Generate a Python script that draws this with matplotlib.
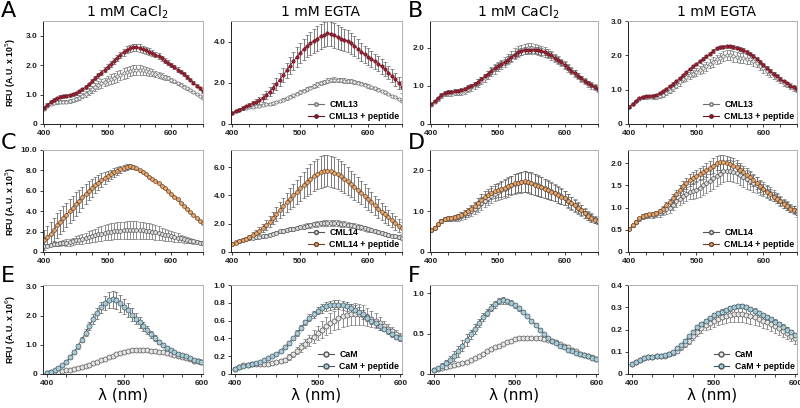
import numpy as np
import matplotlib
matplotlib.use('Agg')
import matplotlib.pyplot as plt
from matplotlib.lines import Line2D

# wavelengths (nm)
wl = np.arange(400, 651, 5)
wl_cam = np.arange(400, 601, 5)

# ---- A : CML13, 1 mM CaCl2
A_ca_prot = [0.50, 0.60, 0.67, 0.72, 0.74, 0.75, 0.75, 0.76, 0.78, 0.80,
             0.84, 0.90, 0.96, 1.03, 1.10, 1.18, 1.25, 1.32, 1.38, 1.43,
             1.48, 1.53, 1.57, 1.62, 1.67, 1.72, 1.76, 1.80, 1.83, 1.84,
             1.84, 1.82, 1.80, 1.77, 1.74, 1.70, 1.67, 1.63, 1.59, 1.55,
             1.50, 1.45, 1.39, 1.33, 1.27, 1.21, 1.15, 1.08, 1.01, 0.94,
             0.87]
A_ca_prot_err = [0.03, 0.03, 0.04, 0.04, 0.05, 0.05, 0.05, 0.05, 0.06, 0.06,
                 0.07, 0.08, 0.09, 0.10, 0.11, 0.12, 0.13, 0.14, 0.15, 0.15,
                 0.16, 0.17, 0.17, 0.18, 0.18, 0.18, 0.18, 0.18, 0.17, 0.17,
                 0.16, 0.15, 0.14, 0.13, 0.12, 0.11, 0.10, 0.09, 0.08, 0.07,
                 0.06, 0.06, 0.05, 0.05, 0.04, 0.04, 0.04, 0.03, 0.03, 0.03,
                 0.03]
A_ca_pep = [0.55, 0.65, 0.75, 0.83, 0.88, 0.92, 0.95, 0.96, 0.98, 1.01,
            1.05, 1.11, 1.18, 1.26, 1.35, 1.45, 1.55, 1.65, 1.75, 1.85,
            1.95, 2.05, 2.15, 2.25, 2.35, 2.44, 2.52, 2.57, 2.60, 2.60,
            2.58, 2.54, 2.50, 2.46, 2.42, 2.36, 2.30, 2.23, 2.15, 2.08,
            2.00, 1.93, 1.85, 1.78, 1.70, 1.60, 1.50, 1.40, 1.30, 1.21,
            1.12]
A_ca_pep_err = [0.05, 0.05, 0.05, 0.05, 0.05, 0.05, 0.05, 0.05, 0.05, 0.05,
                0.05, 0.05, 0.06, 0.06, 0.06, 0.07, 0.07, 0.08, 0.08, 0.09,
                0.09, 0.10, 0.10, 0.11, 0.11, 0.12, 0.12, 0.13, 0.13, 0.13,
                0.13, 0.12, 0.12, 0.11, 0.11, 0.10, 0.10, 0.09, 0.09, 0.08,
                0.08, 0.07, 0.07, 0.06, 0.06, 0.06, 0.05, 0.05, 0.05, 0.05,
                0.05]

# ---- A : CML13, 1 mM EGTA
A_eg_prot = [0.53, 0.62, 0.70, 0.76, 0.80, 0.82, 0.84, 0.86, 0.88, 0.92,
             0.95, 0.98, 1.00, 1.06, 1.12, 1.18, 1.25, 1.32, 1.40, 1.47,
             1.55, 1.62, 1.70, 1.77, 1.85, 1.92, 1.98, 2.04, 2.10, 2.13,
             2.15, 2.14, 2.12, 2.11, 2.10, 2.08, 2.05, 2.01, 1.96, 1.91,
             1.85, 1.79, 1.73, 1.66, 1.60, 1.53, 1.46, 1.38, 1.30, 1.20,
             1.10]
A_eg_prot_err = [0.03, 0.03, 0.03, 0.04, 0.04, 0.04, 0.04, 0.05, 0.05, 0.05,
                 0.05, 0.05, 0.06, 0.06, 0.06, 0.07, 0.07, 0.07, 0.08, 0.08,
                 0.08, 0.09, 0.09, 0.09, 0.10, 0.10, 0.10, 0.11, 0.11, 0.11,
                 0.11, 0.11, 0.10, 0.10, 0.10, 0.09, 0.09, 0.09, 0.08, 0.08,
                 0.08, 0.07, 0.07, 0.07, 0.06, 0.06, 0.06, 0.05, 0.05, 0.05,
                 0.05]
A_eg_pep = [0.53, 0.62, 0.70, 0.78, 0.85, 0.92, 1.00, 1.07, 1.15, 1.26,
            1.40, 1.57, 1.75, 1.95, 2.15, 2.38, 2.60, 2.83, 3.05, 3.25,
            3.45, 3.62, 3.78, 3.92, 4.05, 4.15, 4.25, 4.33, 4.40, 4.37,
            4.30, 4.22, 4.15, 4.08, 4.02, 3.92, 3.80, 3.65, 3.50, 3.38,
            3.27, 3.16, 3.05, 2.93, 2.80, 2.65, 2.50, 2.34, 2.17, 2.00,
            1.80]
A_eg_pep_err = [0.05, 0.06, 0.07, 0.08, 0.09, 0.10, 0.12, 0.14, 0.16, 0.18,
                0.20, 0.23, 0.26, 0.29, 0.32, 0.35, 0.38, 0.41, 0.44, 0.47,
                0.50, 0.52, 0.54, 0.56, 0.58, 0.59, 0.60, 0.60, 0.60, 0.60,
                0.59, 0.58, 0.56, 0.54, 0.52, 0.50, 0.48, 0.46, 0.44, 0.42,
                0.40, 0.38, 0.37, 0.36, 0.35, 0.34, 0.33, 0.32, 0.31, 0.30,
                0.30]

# ---- B : CML13, 1 mM CaCl2
B_ca_prot = [0.50, 0.58, 0.66, 0.74, 0.79, 0.80, 0.80, 0.81, 0.82, 0.84,
             0.87, 0.91, 0.96, 1.01, 1.07, 1.14, 1.21, 1.29, 1.37, 1.44,
             1.50, 1.56, 1.63, 1.70, 1.77, 1.84, 1.90, 1.94, 1.97, 1.98,
             1.98, 1.97, 1.95, 1.92, 1.88, 1.84, 1.79, 1.73, 1.67, 1.61,
             1.54, 1.47, 1.40, 1.33, 1.26, 1.19, 1.12, 1.06, 1.01, 0.97,
             0.93]
B_ca_prot_err = [0.04, 0.04, 0.05, 0.05, 0.05, 0.06, 0.06, 0.06, 0.07, 0.07,
                 0.08, 0.08, 0.09, 0.09, 0.10, 0.10, 0.11, 0.11, 0.12, 0.12,
                 0.12, 0.13, 0.13, 0.13, 0.14, 0.14, 0.14, 0.14, 0.14, 0.14,
                 0.14, 0.14, 0.13, 0.13, 0.13, 0.12, 0.12, 0.11, 0.11, 0.10,
                 0.10, 0.10, 0.09, 0.09, 0.09, 0.08, 0.08, 0.08, 0.08, 0.08,
                 0.08]
B_ca_pep = [0.53, 0.60, 0.68, 0.76, 0.82, 0.84, 0.85, 0.86, 0.87, 0.89,
            0.92, 0.96, 1.00, 1.05, 1.10, 1.17, 1.25, 1.32, 1.40, 1.46,
            1.52, 1.57, 1.63, 1.69, 1.75, 1.82, 1.88, 1.91, 1.93, 1.94,
            1.95, 1.94, 1.93, 1.91, 1.88, 1.84, 1.80, 1.74, 1.68, 1.62,
            1.55, 1.48, 1.40, 1.34, 1.27, 1.20, 1.13, 1.07, 1.02, 0.97,
            0.92]
B_ca_pep_err = [0.03, 0.03, 0.04, 0.04, 0.05, 0.05, 0.05, 0.05, 0.05, 0.05,
                0.06, 0.06, 0.06, 0.06, 0.07, 0.07, 0.07, 0.07, 0.08, 0.08,
                0.08, 0.08, 0.08, 0.09, 0.09, 0.09, 0.09, 0.09, 0.09, 0.09,
                0.09, 0.09, 0.09, 0.09, 0.08, 0.08, 0.08, 0.08, 0.08, 0.07,
                0.07, 0.07, 0.07, 0.07, 0.07, 0.06, 0.06, 0.06, 0.06, 0.06,
                0.06]

# ---- B : CML13, 1 mM EGTA
B_eg_prot = [0.50, 0.58, 0.67, 0.74, 0.78, 0.79, 0.80, 0.79, 0.78, 0.81,
             0.85, 0.91, 0.97, 1.04, 1.12, 1.21, 1.30, 1.36, 1.42, 1.47,
             1.52, 1.57, 1.62, 1.68, 1.75, 1.81, 1.88, 1.93, 1.98, 2.00,
             2.00, 1.97, 1.95, 1.93, 1.92, 1.90, 1.88, 1.83, 1.78, 1.70,
             1.62, 1.55, 1.48, 1.42, 1.35, 1.28, 1.20, 1.15, 1.10, 1.05,
             1.00]
B_eg_prot_err = [0.03, 0.03, 0.04, 0.04, 0.05, 0.05, 0.05, 0.05, 0.05, 0.06,
                 0.06, 0.07, 0.07, 0.08, 0.08, 0.09, 0.09, 0.10, 0.10, 0.11,
                 0.11, 0.12, 0.12, 0.13, 0.13, 0.14, 0.14, 0.15, 0.15, 0.15,
                 0.15, 0.15, 0.15, 0.15, 0.14, 0.14, 0.14, 0.13, 0.13, 0.12,
                 0.12, 0.11, 0.11, 0.10, 0.10, 0.09, 0.09, 0.08, 0.08, 0.08,
                 0.08]
B_eg_pep = [0.50, 0.59, 0.68, 0.75, 0.80, 0.81, 0.82, 0.83, 0.85, 0.90,
            0.95, 1.02, 1.10, 1.17, 1.25, 1.33, 1.42, 1.51, 1.60, 1.68,
            1.75, 1.83, 1.90, 1.97, 2.05, 2.13, 2.20, 2.23, 2.25, 2.26,
            2.26, 2.24, 2.22, 2.19, 2.15, 2.10, 2.05, 1.98, 1.90, 1.81,
            1.72, 1.63, 1.55, 1.47, 1.40, 1.32, 1.25, 1.18, 1.12, 1.07,
            1.03]
B_eg_pep_err = [0.02, 0.02, 0.02, 0.03, 0.03, 0.03, 0.03, 0.03, 0.03, 0.03,
                0.03, 0.03, 0.03, 0.04, 0.04, 0.04, 0.04, 0.04, 0.04, 0.04,
                0.04, 0.04, 0.04, 0.04, 0.05, 0.05, 0.05, 0.05, 0.05, 0.05,
                0.05, 0.05, 0.05, 0.05, 0.05, 0.05, 0.05, 0.05, 0.05, 0.05,
                0.05, 0.05, 0.05, 0.05, 0.04, 0.04, 0.04, 0.04, 0.04, 0.04,
                0.04]

# ---- C : CML14, 1 mM CaCl2
C_ca_prot = [0.55, 0.62, 0.70, 0.76, 0.80, 0.85, 0.90, 0.93, 0.96, 1.05,
             1.15, 1.22, 1.30, 1.38, 1.48, 1.57, 1.65, 1.73, 1.80, 1.88,
             1.95, 2.00, 2.05, 2.08, 2.10, 2.12, 2.14, 2.15, 2.16, 2.16,
             2.15, 2.12, 2.08, 2.03, 1.98, 1.92, 1.85, 1.78, 1.70, 1.62,
             1.55, 1.48, 1.40, 1.33, 1.25, 1.18, 1.10, 1.03, 0.97, 0.92,
             0.88]
C_ca_prot_err = [0.10, 0.12, 0.15, 0.18, 0.20, 0.23, 0.26, 0.30, 0.33, 0.37,
                 0.40, 0.44, 0.48, 0.52, 0.56, 0.60, 0.64, 0.68, 0.72, 0.75,
                 0.78, 0.80, 0.82, 0.84, 0.85, 0.86, 0.86, 0.86, 0.86, 0.85,
                 0.84, 0.82, 0.80, 0.77, 0.74, 0.70, 0.66, 0.62, 0.58, 0.54,
                 0.50, 0.46, 0.42, 0.38, 0.34, 0.30, 0.26, 0.23, 0.20, 0.18,
                 0.16]
C_ca_pep = [1.20, 1.50, 1.80, 2.20, 2.60, 2.95, 3.30, 3.65, 4.00, 4.35,
            4.70, 5.02, 5.35, 5.68, 6.00, 6.28, 6.55, 6.80, 7.05, 7.25,
            7.45, 7.62, 7.80, 7.95, 8.10, 8.22, 8.35, 8.40, 8.35, 8.20,
            8.00, 7.80, 7.60, 7.40, 7.20, 6.98, 6.75, 6.50, 6.25, 5.98,
            5.70, 5.42, 5.15, 4.85, 4.55, 4.25, 3.95, 3.65, 3.35, 3.07,
            2.80]
C_ca_pep_err = [1.00, 1.05, 1.10, 1.15, 1.18, 1.20, 1.20, 1.20, 1.20, 1.18,
                1.15, 1.10, 1.05, 1.00, 0.95, 0.88, 0.80, 0.72, 0.65, 0.58,
                0.50, 0.45, 0.40, 0.36, 0.32, 0.30, 0.28, 0.26, 0.22, 0.18,
                0.14, 0.10, 0.08, 0.06, 0.05, 0.04, 0.03, 0.03, 0.03, 0.03,
                0.03, 0.03, 0.03, 0.03, 0.03, 0.03, 0.03, 0.03, 0.03, 0.03,
                0.03]

# ---- C : CML14, 1 mM EGTA
C_eg_prot = [0.55, 0.68, 0.80, 0.88, 0.92, 0.96, 1.00, 1.03, 1.06, 1.10,
             1.15, 1.22, 1.30, 1.37, 1.45, 1.50, 1.55, 1.60, 1.65, 1.70,
             1.75, 1.80, 1.85, 1.90, 1.95, 1.99, 2.02, 2.04, 2.05, 2.05,
             2.04, 2.03, 2.00, 1.97, 1.93, 1.89, 1.85, 1.80, 1.74, 1.67,
             1.60, 1.54, 1.48, 1.41, 1.35, 1.29, 1.22, 1.16, 1.10, 1.05,
             1.00]
C_eg_prot_err = [0.05, 0.06, 0.07, 0.08, 0.08, 0.09, 0.09, 0.10, 0.10, 0.11,
                 0.11, 0.12, 0.12, 0.13, 0.13, 0.14, 0.14, 0.15, 0.15, 0.16,
                 0.16, 0.17, 0.17, 0.18, 0.18, 0.19, 0.19, 0.20, 0.20, 0.20,
                 0.20, 0.20, 0.20, 0.20, 0.19, 0.19, 0.19, 0.18, 0.18, 0.17,
                 0.17, 0.16, 0.16, 0.15, 0.15, 0.14, 0.14, 0.13, 0.13, 0.12,
                 0.12]
C_eg_pep = [0.55, 0.65, 0.75, 0.85, 0.95, 1.07, 1.20, 1.35, 1.50, 1.70,
            1.90, 2.15, 2.40, 2.68, 2.95, 3.22, 3.50, 3.75, 4.00, 4.25,
            4.50, 4.73, 4.95, 5.15, 5.35, 5.50, 5.65, 5.72, 5.75, 5.70,
            5.60, 5.48, 5.35, 5.18, 5.00, 4.80, 4.60, 4.40, 4.20, 3.98,
            3.75, 3.52, 3.30, 3.07, 2.85, 2.65, 2.45, 2.25, 2.05, 1.87,
            1.70]
C_eg_pep_err = [0.05, 0.06, 0.08, 0.10, 0.12, 0.15, 0.18, 0.22, 0.26, 0.30,
                0.35, 0.40, 0.45, 0.50, 0.56, 0.62, 0.68, 0.74, 0.80, 0.85,
                0.90, 0.95, 0.99, 1.03, 1.06, 1.08, 1.10, 1.10, 1.10, 1.10,
                1.08, 1.06, 1.04, 1.01, 0.98, 0.95, 0.92, 0.88, 0.84, 0.80,
                0.76, 0.72, 0.68, 0.64, 0.60, 0.57, 0.54, 0.51, 0.48, 0.46,
                0.44]

# ---- D : CML14, 1 mM CaCl2
D_ca_prot = [0.53, 0.60, 0.68, 0.76, 0.80, 0.81, 0.81, 0.83, 0.85, 0.88,
             0.92, 0.96, 1.00, 1.06, 1.12, 1.19, 1.26, 1.32, 1.38, 1.43,
             1.47, 1.51, 1.55, 1.59, 1.63, 1.66, 1.69, 1.71, 1.72, 1.71,
             1.69, 1.66, 1.63, 1.60, 1.56, 1.53, 1.49, 1.45, 1.41, 1.37,
             1.32, 1.26, 1.20, 1.14, 1.08, 1.02, 0.96, 0.90, 0.85, 0.80,
             0.76]
D_ca_prot_err = [0.03, 0.04, 0.04, 0.05, 0.05, 0.06, 0.06, 0.07, 0.08, 0.09,
                 0.10, 0.11, 0.12, 0.13, 0.14, 0.15, 0.16, 0.17, 0.18, 0.19,
                 0.20, 0.21, 0.22, 0.23, 0.24, 0.25, 0.25, 0.26, 0.26, 0.26,
                 0.26, 0.26, 0.25, 0.25, 0.24, 0.23, 0.22, 0.21, 0.20, 0.19,
                 0.18, 0.17, 0.16, 0.15, 0.14, 0.13, 0.12, 0.11, 0.10, 0.09,
                 0.08]
D_ca_pep = [0.53, 0.60, 0.68, 0.76, 0.82, 0.83, 0.83, 0.85, 0.88, 0.91,
            0.95, 1.00, 1.05, 1.12, 1.20, 1.28, 1.35, 1.40, 1.45, 1.49,
            1.52, 1.55, 1.58, 1.62, 1.65, 1.68, 1.70, 1.72, 1.73, 1.71,
            1.68, 1.65, 1.62, 1.59, 1.55, 1.52, 1.48, 1.44, 1.40, 1.36,
            1.32, 1.26, 1.20, 1.14, 1.08, 1.02, 0.95, 0.89, 0.83, 0.79,
            0.75]
D_ca_pep_err = [0.02, 0.03, 0.03, 0.04, 0.04, 0.05, 0.05, 0.06, 0.06, 0.07,
                0.08, 0.09, 0.10, 0.11, 0.12, 0.13, 0.14, 0.15, 0.16, 0.17,
                0.18, 0.19, 0.20, 0.21, 0.22, 0.23, 0.24, 0.25, 0.25, 0.25,
                0.25, 0.25, 0.24, 0.24, 0.23, 0.22, 0.21, 0.20, 0.19, 0.18,
                0.17, 0.16, 0.15, 0.14, 0.13, 0.12, 0.11, 0.10, 0.09, 0.08,
                0.07]

# ---- D : CML14, 1 mM EGTA
D_eg_prot = [0.52, 0.60, 0.68, 0.75, 0.80, 0.82, 0.83, 0.84, 0.85, 0.88,
             0.92, 0.96, 1.00, 1.07, 1.14, 1.20, 1.26, 1.31, 1.36, 1.38,
             1.40, 1.45, 1.50, 1.55, 1.60, 1.66, 1.72, 1.77, 1.82, 1.83,
             1.83, 1.81, 1.78, 1.73, 1.68, 1.64, 1.60, 1.55, 1.50, 1.46,
             1.42, 1.37, 1.32, 1.27, 1.22, 1.16, 1.10, 1.05, 1.00, 0.94,
             0.88]
D_eg_prot_err = [0.03, 0.04, 0.04, 0.05, 0.05, 0.06, 0.06, 0.07, 0.07, 0.08,
                 0.09, 0.10, 0.11, 0.12, 0.13, 0.14, 0.15, 0.16, 0.17, 0.18,
                 0.19, 0.20, 0.21, 0.22, 0.22, 0.23, 0.23, 0.24, 0.24, 0.24,
                 0.24, 0.24, 0.23, 0.23, 0.22, 0.21, 0.20, 0.19, 0.18, 0.17,
                 0.16, 0.15, 0.14, 0.13, 0.12, 0.11, 0.10, 0.10, 0.09, 0.09,
                 0.09]
D_eg_pep = [0.52, 0.60, 0.68, 0.76, 0.82, 0.84, 0.85, 0.86, 0.88, 0.92,
            0.98, 1.05, 1.12, 1.21, 1.30, 1.39, 1.48, 1.55, 1.62, 1.67,
            1.72, 1.76, 1.80, 1.85, 1.90, 1.95, 2.00, 2.02, 2.02, 2.00,
            1.98, 1.95, 1.92, 1.86, 1.80, 1.74, 1.68, 1.62, 1.55, 1.48,
            1.42, 1.36, 1.30, 1.25, 1.20, 1.14, 1.08, 1.03, 0.98, 0.95,
            0.92]
D_eg_pep_err = [0.02, 0.03, 0.03, 0.03, 0.04, 0.04, 0.04, 0.05, 0.05, 0.06,
                0.06, 0.07, 0.08, 0.09, 0.10, 0.11, 0.11, 0.12, 0.13, 0.13,
                0.14, 0.14, 0.15, 0.15, 0.15, 0.16, 0.16, 0.16, 0.16, 0.16,
                0.16, 0.16, 0.16, 0.15, 0.15, 0.15, 0.14, 0.14, 0.13, 0.13,
                0.12, 0.12, 0.11, 0.11, 0.10, 0.10, 0.09, 0.09, 0.08, 0.08,
                0.08]

# ---- E : CaM, 1 mM CaCl2
E_ca_prot = [0.05, 0.06, 0.07, 0.08, 0.10, 0.12, 0.14, 0.17, 0.20, 0.24,
             0.28, 0.32, 0.36, 0.41, 0.47, 0.53, 0.58, 0.63, 0.67, 0.72,
             0.76, 0.79, 0.81, 0.82, 0.82, 0.82, 0.81, 0.80, 0.78, 0.76,
             0.74, 0.71, 0.68, 0.65, 0.61, 0.58, 0.54, 0.50, 0.46, 0.43,
             0.40]
E_ca_prot_err = [0.01, 0.01, 0.01, 0.01, 0.01, 0.01, 0.01, 0.01, 0.02, 0.02,
                 0.02, 0.02, 0.02, 0.02, 0.03, 0.03, 0.03, 0.03, 0.03, 0.03,
                 0.03, 0.03, 0.03, 0.03, 0.03, 0.03, 0.03, 0.03, 0.03, 0.03,
                 0.03, 0.03, 0.02, 0.02, 0.02, 0.02, 0.02, 0.02, 0.02, 0.02,
                 0.02]
E_ca_pep = [0.05, 0.08, 0.13, 0.20, 0.30, 0.42, 0.58, 0.76, 0.95, 1.18,
            1.42, 1.65, 1.88, 2.08, 2.28, 2.44, 2.54, 2.56, 2.52, 2.42,
            2.30, 2.18, 2.03, 1.90, 1.77, 1.63, 1.50, 1.36, 1.22, 1.10,
            0.98, 0.89, 0.82, 0.76, 0.70, 0.65, 0.60, 0.54, 0.49, 0.44,
            0.40]
E_ca_pep_err = [0.02, 0.02, 0.03, 0.03, 0.04, 0.05, 0.06, 0.07, 0.08, 0.10,
                0.12, 0.14, 0.16, 0.18, 0.20, 0.24, 0.28, 0.30, 0.30, 0.28,
                0.26, 0.24, 0.22, 0.20, 0.18, 0.16, 0.14, 0.12, 0.10, 0.08,
                0.07, 0.06, 0.05, 0.04, 0.04, 0.03, 0.03, 0.03, 0.03, 0.03,
                0.03]

# ---- E : CaM, 1 mM EGTA
E_eg_prot = [0.06, 0.08, 0.10, 0.105, 0.11, 0.11, 0.11, 0.11, 0.115, 0.12,
             0.13, 0.145, 0.16, 0.19, 0.22, 0.26, 0.30, 0.34, 0.38, 0.42,
             0.46, 0.50, 0.54, 0.57, 0.60, 0.63, 0.65, 0.66, 0.67, 0.675,
             0.67, 0.66, 0.64, 0.62, 0.60, 0.57, 0.54, 0.51, 0.48, 0.45,
             0.42]
E_eg_prot_err = [0.01, 0.01, 0.01, 0.01, 0.01, 0.01, 0.01, 0.01, 0.01, 0.01,
                 0.01, 0.02, 0.02, 0.03, 0.03, 0.04, 0.05, 0.05, 0.06, 0.07,
                 0.08, 0.09, 0.10, 0.11, 0.11, 0.12, 0.12, 0.12, 0.12, 0.12,
                 0.12, 0.11, 0.10, 0.09, 0.08, 0.07, 0.06, 0.05, 0.05, 0.04,
                 0.04]
E_eg_pep = [0.06, 0.075, 0.09, 0.10, 0.11, 0.125, 0.14, 0.16, 0.18, 0.205,
            0.23, 0.26, 0.30, 0.35, 0.40, 0.46, 0.52, 0.58, 0.63, 0.67,
            0.71, 0.74, 0.76, 0.77, 0.78, 0.78, 0.77, 0.76, 0.74, 0.72,
            0.70, 0.67, 0.63, 0.60, 0.57, 0.54, 0.51, 0.48, 0.45, 0.42,
            0.40]
E_eg_pep_err = [0.01, 0.01, 0.01, 0.01, 0.01, 0.01, 0.01, 0.01, 0.01, 0.01,
                0.01, 0.01, 0.02, 0.02, 0.02, 0.03, 0.03, 0.03, 0.04, 0.04,
                0.04, 0.05, 0.05, 0.05, 0.05, 0.05, 0.05, 0.05, 0.05, 0.05,
                0.05, 0.05, 0.04, 0.04, 0.04, 0.04, 0.03, 0.03, 0.03, 0.03,
                0.03]

# ---- F : CaM, 1 mM CaCl2
F_ca_prot = [0.05, 0.06, 0.08, 0.09, 0.10, 0.11, 0.12, 0.135, 0.15, 0.17,
             0.20, 0.225, 0.25, 0.28, 0.31, 0.33, 0.35, 0.37, 0.39, 0.41,
             0.43, 0.44, 0.45, 0.45, 0.45, 0.445, 0.44, 0.43, 0.42, 0.405,
             0.39, 0.37, 0.35, 0.33, 0.30, 0.28, 0.25, 0.235, 0.22, 0.205,
             0.19]
F_ca_prot_err = [0.005, 0.005, 0.005, 0.005, 0.006, 0.006, 0.006, 0.007, 0.007, 0.008,
                 0.008, 0.009, 0.009, 0.010, 0.010, 0.010, 0.010, 0.010, 0.010, 0.010,
                 0.010, 0.010, 0.010, 0.010, 0.010, 0.010, 0.010, 0.010, 0.010, 0.010,
                 0.010, 0.010, 0.010, 0.010, 0.009, 0.009, 0.008, 0.008, 0.007, 0.007,
                 0.007]
F_ca_pep = [0.05, 0.07, 0.10, 0.13, 0.17, 0.22, 0.28, 0.35, 0.42, 0.49,
            0.56, 0.63, 0.70, 0.76, 0.82, 0.86, 0.90, 0.91, 0.90, 0.88,
            0.85, 0.81, 0.77, 0.72, 0.66, 0.61, 0.55, 0.50, 0.45, 0.41,
            0.38, 0.35, 0.33, 0.30, 0.28, 0.26, 0.25, 0.23, 0.22, 0.20,
            0.19]
F_ca_pep_err = [0.01, 0.02, 0.03, 0.04, 0.05, 0.06, 0.07, 0.07, 0.07, 0.06,
                0.06, 0.05, 0.05, 0.04, 0.04, 0.04, 0.04, 0.04, 0.03, 0.03,
                0.03, 0.03, 0.02, 0.02, 0.02, 0.02, 0.02, 0.01, 0.01, 0.01,
                0.01, 0.01, 0.01, 0.01, 0.01, 0.01, 0.01, 0.01, 0.01, 0.01,
                0.01]

# ---- F : CaM, 1 mM EGTA
F_eg_prot = [0.047, 0.055, 0.062, 0.070, 0.075, 0.078, 0.080, 0.082, 0.083, 0.088,
             0.095, 0.105, 0.120, 0.135, 0.150, 0.170, 0.190, 0.205, 0.220, 0.230,
             0.240, 0.248, 0.255, 0.260, 0.265, 0.268, 0.270, 0.270, 0.265, 0.260,
             0.255, 0.248, 0.240, 0.233, 0.225, 0.215, 0.205, 0.195, 0.185, 0.173,
             0.160]
F_eg_prot_err = [0.003, 0.003, 0.004, 0.004, 0.005, 0.005, 0.006, 0.006, 0.007, 0.008,
                 0.009, 0.010, 0.012, 0.014, 0.016, 0.018, 0.020, 0.022, 0.024, 0.026,
                 0.028, 0.030, 0.031, 0.032, 0.033, 0.034, 0.035, 0.035, 0.035, 0.035,
                 0.034, 0.033, 0.032, 0.031, 0.030, 0.029, 0.028, 0.027, 0.026, 0.025,
                 0.024]
F_eg_pep = [0.047, 0.055, 0.062, 0.070, 0.075, 0.078, 0.080, 0.082, 0.085, 0.092,
            0.100, 0.115, 0.130, 0.150, 0.170, 0.190, 0.210, 0.225, 0.240, 0.253,
            0.265, 0.273, 0.280, 0.288, 0.295, 0.300, 0.305, 0.305, 0.300, 0.293,
            0.285, 0.275, 0.265, 0.255, 0.245, 0.235, 0.225, 0.213, 0.200, 0.188,
            0.175]
F_eg_pep_err = [0.002, 0.002, 0.002, 0.003, 0.003, 0.003, 0.003, 0.003, 0.004, 0.004,
                0.005, 0.005, 0.006, 0.006, 0.007, 0.007, 0.008, 0.008, 0.009, 0.009,
                0.010, 0.010, 0.010, 0.010, 0.010, 0.010, 0.010, 0.010, 0.010, 0.010,
                0.010, 0.010, 0.010, 0.010, 0.010, 0.010, 0.010, 0.010, 0.010, 0.010,
                0.010]

# y axes
ylims = [[3.5, 5.0, 2.7, 3.0],
         [10.0, 7.2, 2.5, 2.3],
         [3.05, 1.0, 1.1, 0.4]]
yticks = [[[0, 1, 2, 3], [0, 2, 4], [0, 1, 2], [0, 1, 2, 3]],
          [[0, 2, 4, 6, 8, 10], [0, 2, 4, 6], [0, 1, 2], [0, 0.5, 1, 1.5, 2]],
          [[0, 1, 2, 3], [0, 0.2, 0.4, 0.6, 0.8, 1.0], [0, 0.5, 1.0], [0, 0.1, 0.2, 0.3, 0.4]]]
yticklabels = [[['0', '1.0', '2.0', '3.0'], ['0', '2.0', '4.0'], ['0', '1.0', '2.0'], ['0', '1.0', '2.0', '3.0']],
               [['0', '2.0', '4.0', '6.0', '8.0', '10.0'], ['0', '2.0', '4.0', '6.0'], ['0', '1.0', '2.0'],
                ['0', '0.5', '1.0', '1.5', '2.0']],
               [['0', '1.0', '2.0', '3.0'], ['0', '0.2', '0.4', '0.6', '0.8', '1.0'], ['0', '0.5', '1.0'],
                ['0', '0.1', '0.2', '0.3', '0.4']]]

proteins = ['CML13', 'CML14', 'CaM']
panel_letters = [['A', 'B'], ['C', 'D'], ['E', 'F']]
ylabels = ['RFU (A.U. x 10$^5$)', 'RFU (A.U. x 10$^5$)', 'RFU (A.U. x 10$^6$)']

# colours (face, edge) for protein alone and + peptide, per row
grey_style = [('#f2f2f2', '#6e6e6e'), ('#dcdcdc', '#555555'), ('#e6e6e6', '#555555')]
pep_style = [('#9c2233', '#6a1322'), ('#e9a868', '#6b4530'), ('#a8cbd6', '#44565e')]
msizes = [2.4, 2.8, 3.6]

data = [
    [(A_ca_prot, A_ca_prot_err, A_ca_pep, A_ca_pep_err), (A_eg_prot, A_eg_prot_err, A_eg_pep, A_eg_pep_err),
     (B_ca_prot, B_ca_prot_err, B_ca_pep, B_ca_pep_err), (B_eg_prot, B_eg_prot_err, B_eg_pep, B_eg_pep_err)],
    [(C_ca_prot, C_ca_prot_err, C_ca_pep, C_ca_pep_err), (C_eg_prot, C_eg_prot_err, C_eg_pep, C_eg_pep_err),
     (D_ca_prot, D_ca_prot_err, D_ca_pep, D_ca_pep_err), (D_eg_prot, D_eg_prot_err, D_eg_pep, D_eg_pep_err)],
    [(E_ca_prot, E_ca_prot_err, E_ca_pep, E_ca_pep_err), (E_eg_prot, E_eg_prot_err, E_eg_pep, E_eg_pep_err),
     (F_ca_prot, F_ca_prot_err, F_ca_pep, F_ca_pep_err), (F_eg_prot, F_eg_prot_err, F_eg_pep, F_eg_pep_err)],
]

W, H = 800, 408
cols = [(43, 203), (231, 402), (430, 598), (628, 797)]
rows = [(21, 124), (150, 252), (285, 374)]

fig = plt.figure(figsize=(8, 4.08), dpi=100)

for r in range(3):
    x = wl if r < 2 else wl_cam
    xlim = (398, 650) if r < 2 else (395, 602)
    gf, ge = grey_style[r]
    pf, pe = pep_style[r]
    ms = msizes[r]
    for c in range(4):
        x0, x1 = cols[c]
        y0, y1 = rows[r]
        ax = fig.add_axes([x0 / W, 1 - y1 / H, (x1 - x0) / W, (y1 - y0) / H])
        prot, prot_err, pep, pep_err = data[r][c]
        ax.errorbar(x, prot, yerr=prot_err, fmt='o-', ms=ms, mfc=gf, mec=ge, mew=0.5,
                    color=ge, lw=0.6, ecolor='#7a7a7a', elinewidth=0.6, capsize=1.3, capthick=0.5)
        ax.errorbar(x, pep, yerr=pep_err, fmt='o-', ms=ms, mfc=pf, mec=pe, mew=0.5,
                    color=pe, lw=0.6, ecolor='#666666', elinewidth=0.6, capsize=1.3, capthick=0.5)
        ax.set_xlim(*xlim)
        ax.set_ylim(0, ylims[r][c])
        ax.set_xticks([400, 500, 600])
        ax.set_xticks([425, 450, 475, 525, 550, 575, 625, 650] if r < 2 else [425, 450, 475, 525, 550, 575], minor=True)
        ax.set_xticklabels(['400', '500', '600'], fontsize=6, fontweight='bold', family='Liberation Sans')
        ax.set_yticks(yticks[r][c])
        ax.set_yticklabels(yticklabels[r][c], fontsize=6, fontweight='bold', family='Liberation Sans')
        ax.tick_params(which='both', direction='out', length=2.5, width=0.6, pad=1.5, colors='#222222')
        ax.spines['left'].set_color('#222222')
        ax.spines['bottom'].set_color('#222222')
        ax.spines['top'].set_color('#b0b0b0')
        ax.spines['right'].set_color('#b0b0b0')
        for s in ax.spines.values():
            s.set_linewidth(0.7)

        if c in (1, 3):
            handles = [Line2D([], [], color=ge, marker='o', mfc=gf, mec=ge, ms=ms, lw=0.8),
                       Line2D([], [], color=pe, marker='o', mfc=pf, mec=pe, ms=ms, lw=0.8)]
            ax.legend(handles, [proteins[r], proteins[r] + ' + peptide'], loc='lower right',
                      frameon=False, handlelength=1.8, handletextpad=0.6, labelspacing=0.35,
                      borderaxespad=0.2, borderpad=0.1,
                      prop={'family': 'Liberation Sans', 'weight': 'bold', 'size': 6.3})

        if c == 0:
            fig.text(11 / W, 1 - (y0 + y1) / 2 / H, ylabels[r], rotation=90, ha='center', va='center',
                     fontsize=6.3, fontweight='bold', family='Liberation Sans')
        if r == 2:
            fig.text((x0 + x1) / 2 / W, 1 - 395 / H, 'λ (nm)', ha='center', va='center', fontsize=11)

# column titles
for c in range(4):
    x0, x1 = cols[c]
    title = '1 mM CaCl$_2$' if c % 2 == 0 else '1 mM EGTA'
    fig.text((x0 + x1) / 2 / W + 0.005, 1 - 12 / H, title, ha='center', va='center', fontsize=10)

# panel letters
letter_y = [11, 143, 276]
for r in range(3):
    fig.text(1 / W, 1 - letter_y[r] / H, panel_letters[r][0], ha='left', va='center', fontsize=16)
    fig.text(408 / W, 1 - letter_y[r] / H, panel_letters[r][1], ha='left', va='center', fontsize=16)

fig.savefig('out.png', dpi=100)
